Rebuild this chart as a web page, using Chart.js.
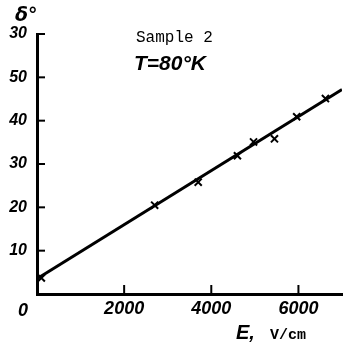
<!DOCTYPE html>
<html>
<head>
<meta charset="utf-8">
<script src="https://cdn.jsdelivr.net/npm/chart.js@4"></script>
<style>
  html, body { margin: 0; padding: 0; background: #fff; }
  #wrap { width: 344px; height: 344px; }
</style>
</head>
<body>
<div id="wrap"><canvas id="myChart" width="344" height="344"></canvas></div>
<script>
// measured points (E in V/cm, delta in degrees)
const fieldE = [100, 2700, 3700, 4600, 4970, 5450, 5960, 6620];
const deltaDeg = [3.7, 20.5, 25.8, 31.9, 35.1, 35.8, 40.9, 45.1];

// fitted straight line, two ends
const fitE = [0, 7000];
const fitDelta = [3.5, 47.2];

// axis ticks
const xTickVals = [2000, 4000, 6000];
const xTickLabels = ['2000', '4000', '6000'];
const yTickVals = [10, 20, 30, 40, 50, 60];
const yTickLabels = ['10', '20', '30', '40', '50', '30'];

const ink = '#000';

const toXY = (xs, ys) => xs.map((x, i) => ({x: x, y: ys[i]}));

// small inward tick marks + free text
const extras = {
  id: 'extras',
  afterDraw(chart) {
    const ctx = chart.ctx;
    const xs = chart.scales.x, ys = chart.scales.y;
    const x0 = xs.getPixelForValue(0), y0 = ys.getPixelForValue(0);
    ctx.save();
    ctx.strokeStyle = ink;
    ctx.lineWidth = 2;
    xTickVals.forEach(v => {
      const px = xs.getPixelForValue(v);
      ctx.beginPath(); ctx.moveTo(px, y0); ctx.lineTo(px, y0 - 9); ctx.stroke();
    });
    yTickVals.forEach(v => {
      const py = ys.getPixelForValue(v);
      ctx.beginPath(); ctx.moveTo(x0, py); ctx.lineTo(x0 + 8, py); ctx.stroke();
    });

    ctx.fillStyle = ink;
    ctx.textBaseline = 'alphabetic';
    ctx.textAlign = 'left';
    ctx.font = 'italic bold 18px "Liberation Sans"';
    ctx.fillText('0', x0 - 19, y0 + 22);
    ctx.font = 'italic bold 19px "DejaVu Sans"';
    ctx.fillText('δ°', 15, 21);
    ctx.font = '16px "Liberation Mono"';
    ctx.fillText('Sample 2', 136, 42);
    ctx.font = 'italic bold 21px "Liberation Sans"';
    ctx.fillText('T=80°K', 134, 70);
    ctx.font = 'italic bold 20px "Liberation Sans"';
    ctx.fillText('E,', 236, 339);
    ctx.font = 'bold 15px "Liberation Mono"';
    ctx.fillText('V/cm', 270, 339);
    ctx.restore();
  }
};

const config = {
  type: 'scatter',
  data: {
    datasets: [
      {
        label: 'fit',
        data: toXY(fitE, fitDelta),
        showLine: true,
        borderColor: ink,
        borderWidth: 3,
        pointRadius: 0
      },
      {
        label: 'Sample 2',
        data: toXY(fieldE, deltaDeg),
        showLine: false,
        pointStyle: 'crossRot',
        pointRadius: 5,
        borderColor: ink,
        borderWidth: 2
      }
    ]
  },
  options: {
    responsive: false,
    animation: false,
    layout: { autoPadding: false, padding: { top: 34, right: 2, left: 0, bottom: 0 } },
    plugins: { legend: { display: false }, tooltip: { enabled: false } },
    scales: {
      x: {
        type: 'linear',
        min: 0,
        max: 7000,
        afterBuildTicks: s => { s.ticks = xTickVals.map(v => ({value: v})); },
        afterFit: s => { s.height = 50; s.paddingRight = 0; },
        grid: { display: false, drawTicks: false },
        border: { display: true, color: ink, width: 3 },
        ticks: {
          padding: 4,
          color: ink,
          maxRotation: 0,
          font: { family: 'Liberation Sans', size: 18, style: 'italic', weight: 'bold' },
          callback: v => xTickLabels[xTickVals.indexOf(v)]
        }
      },
      y: {
        type: 'linear',
        min: 0,
        max: 60,
        afterBuildTicks: s => { s.ticks = yTickVals.map(v => ({value: v})); },
        afterFit: s => { s.width = 37; },
        grid: { display: false, drawTicks: false },
        border: { display: true, color: ink, width: 3 },
        ticks: {
          padding: 10,
          color: ink,
          font: { family: 'Liberation Sans', size: 16, style: 'italic', weight: 'bold' },
          callback: v => yTickLabels[yTickVals.indexOf(v)]
        }
      }
    }
  },
  plugins: [extras]
};

new Chart(document.getElementById('myChart'), config);
</script>
</body>
</html>
